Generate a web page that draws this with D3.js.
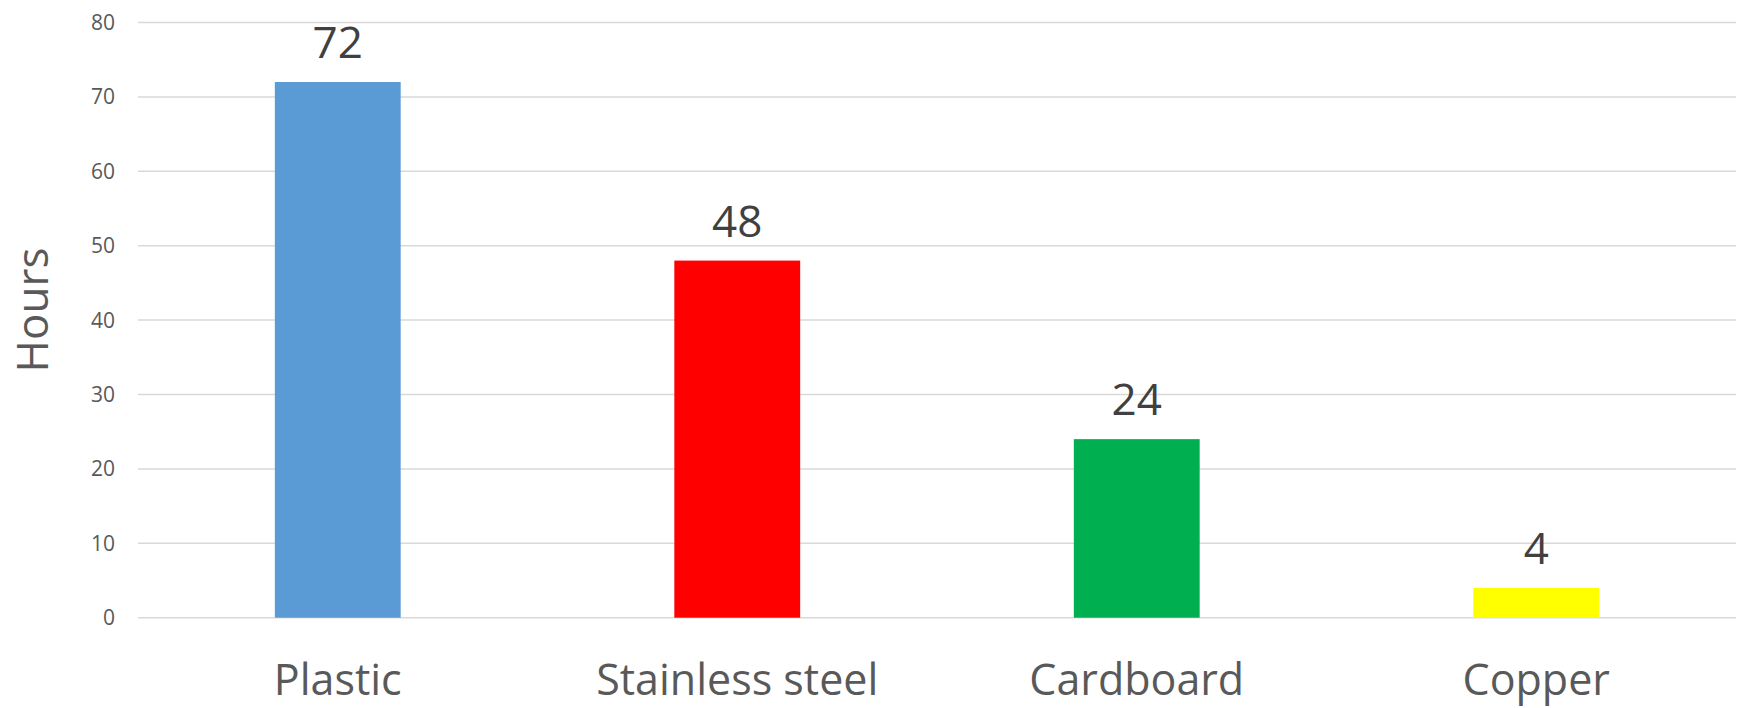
<!DOCTYPE html>
<html lang="en">
<head>
<meta charset="UTF-8">
<title>Hours</title>
<script src="https://d3js.org/d3.v7.min.js"></script>
<style>
  body { margin: 0; background: #fff; }
  text { font-family: "Open Sans", sans-serif; }
  .grid line { stroke: #d9d9d9; stroke-width: 1.5px; }
</style>
</head>
<body>
<svg width="1741" height="708"></svg>
<script>
const categories = ["Plastic", "Stainless steel", "Cardboard", "Copper"];
const hours = [72, 48, 24, 4];
const barColors = ["#5b9bd5", "#ff0000", "#00b050", "#ffff00"];
const yTicks = [0, 10, 20, 30, 40, 50, 60, 70, 80];

const svg = d3.select("svg");
const plotLeft = 138, plotRight = 1736, plotTop = 22.5, plotBottom = 617.7;

const x = d3.scaleBand()
    .domain(categories)
    .range([plotLeft, plotRight])
    .paddingInner(0.685)
    .paddingOuter(0.3425);

const y = d3.scaleLinear()
    .domain([0, 80])
    .range([plotBottom, plotTop]);

// gridlines
svg.append("g").attr("class", "grid")
  .selectAll("line")
  .data(yTicks)
  .enter().append("line")
    .attr("x1", plotLeft).attr("x2", plotRight)
    .attr("y1", d => y(d)).attr("y2", d => y(d));

// y tick labels
svg.append("g")
  .selectAll("text")
  .data(yTicks)
  .enter().append("text")
    .attr("x", 115)
    .attr("y", d => y(d))
    .attr("dy", "0.36em")
    .attr("text-anchor", "end")
    .style("font-size", "21px")
    .style("fill", "#595959")
    .text(d => d);

// bars
svg.append("g")
  .selectAll("rect")
  .data(hours)
  .enter().append("rect")
    .attr("x", (d, i) => x(categories[i]))
    .attr("width", x.bandwidth())
    .attr("y", d => y(d))
    .attr("height", d => y(0) - y(d))
    .attr("fill", (d, i) => barColors[i]);

// value labels
svg.append("g")
  .selectAll("text")
  .data(hours)
  .enter().append("text")
    .attr("x", (d, i) => x(categories[i]) + x.bandwidth() / 2)
    .attr("y", d => y(d) - 24)
    .attr("text-anchor", "middle")
    .style("font-size", "44px")
    .style("fill", "#404040")
    .text(d => d);

// category labels
svg.append("g")
  .selectAll("text")
  .data(categories)
  .enter().append("text")
    .attr("x", d => x(d) + x.bandwidth() / 2)
    .attr("y", 695)
    .attr("text-anchor", "middle")
    .style("font-size", "43px")
    .style("fill", "#595959")
    .text(d => d);

// axis title
svg.append("text")
    .attr("transform", "translate(48,310) rotate(-90)")
    .attr("text-anchor", "middle")
    .style("font-size", "44px")
    .style("fill", "#595959")
    .text("Hours");
</script>
</body>
</html>
